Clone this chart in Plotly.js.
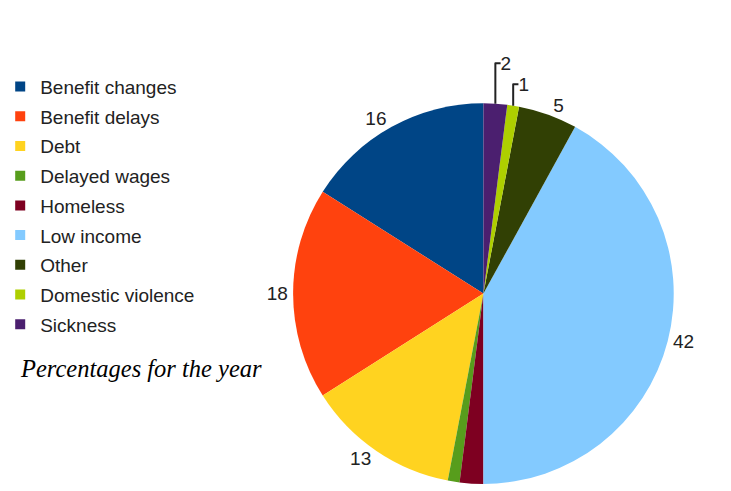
<!DOCTYPE html>
<html>
<head>
<meta charset="utf-8">
<script src="https://cdn.plot.ly/plotly-3.0.1.min.js"></script>
<style>html,body{margin:0;padding:0;background:#fff;}#chart{width:731px;height:491px;}</style>
</head>
<body>
<div id="chart"></div>
<script>
const categories = ["Benefit changes", "Benefit delays", "Debt", "Delayed wages", "Homeless", "Low income", "Other", "Domestic violence", "Sickness"];
const values = [16, 18, 13, 1, 2, 42, 5, 1, 2];
const colors = ["#004586", "#ff420e", "#ffd320", "#579d1c", "#7e0021", "#83caff", "#314004", "#aecf00", "#4b1f6f"];
// value labels shown in the reference (bottom slivers carry no label)
const showLabel = [true, true, true, false, false, true, true, true, true];
const note = "Percentages for the year";

const pie = {
  type: "pie",
  labels: categories,
  values: values,
  sort: false,
  direction: "counterclockwise",
  rotation: -57.6,
  marker: {colors: colors, line: {width: 0}},
  textinfo: "value",
  textposition: showLabel.map(s => s ? "outside" : "none"),
  outsidetextfont: {family: "Liberation Sans, Arial, sans-serif", size: 19, color: "#222"},
  domain: {x: [0.396, 0.921], y: [0.012, 0.792]},
  showlegend: false,
  hoverinfo: "label+value"
};

// legend entries (one per category, same colours as the slices)
const legendTraces = categories.map((name, i) => ({
  type: "scatter",
  mode: "markers",
  x: [null], y: [null],
  name: name,
  legendgroup: name,
  marker: {symbol: "square", size: 10, color: colors[i]},
  showlegend: true,
  hoverinfo: "skip"
}));

const layout = {
  width: 731, height: 491,
  margin: {l: 0, r: 0, t: 0, b: 0},
  paper_bgcolor: "#fff",
  plot_bgcolor: "rgba(0,0,0,0)",
  xaxis: {visible: false, domain: [0, 0.01]},
  yaxis: {visible: false, domain: [0, 0.01]},
  showlegend: true,
  legend: {
    x: -0.008, y: 0.862, xanchor: "left", yanchor: "top",
    font: {family: "Liberation Sans, Arial, sans-serif", size: 19, color: "#222"},
    traceorder: "grouped",
    itemwidth: 30,
    tracegroupgap: 2,
    bgcolor: "rgba(0,0,0,0)"
  },
  annotations: [{
    text: note, showarrow: false,
    xref: "paper", yref: "paper", x: 0.0165, y: 0.25, xanchor: "left", yanchor: "middle",
    font: {family: "Liberation Serif, Times New Roman, serif", size: 24.5, color: "#000", style: "italic"}
  }]
};

Plotly.newPlot("chart", [pie].concat(legendTraces), layout, {displayModeBar: false, staticPlot: true});
</script>
</body>
</html>
